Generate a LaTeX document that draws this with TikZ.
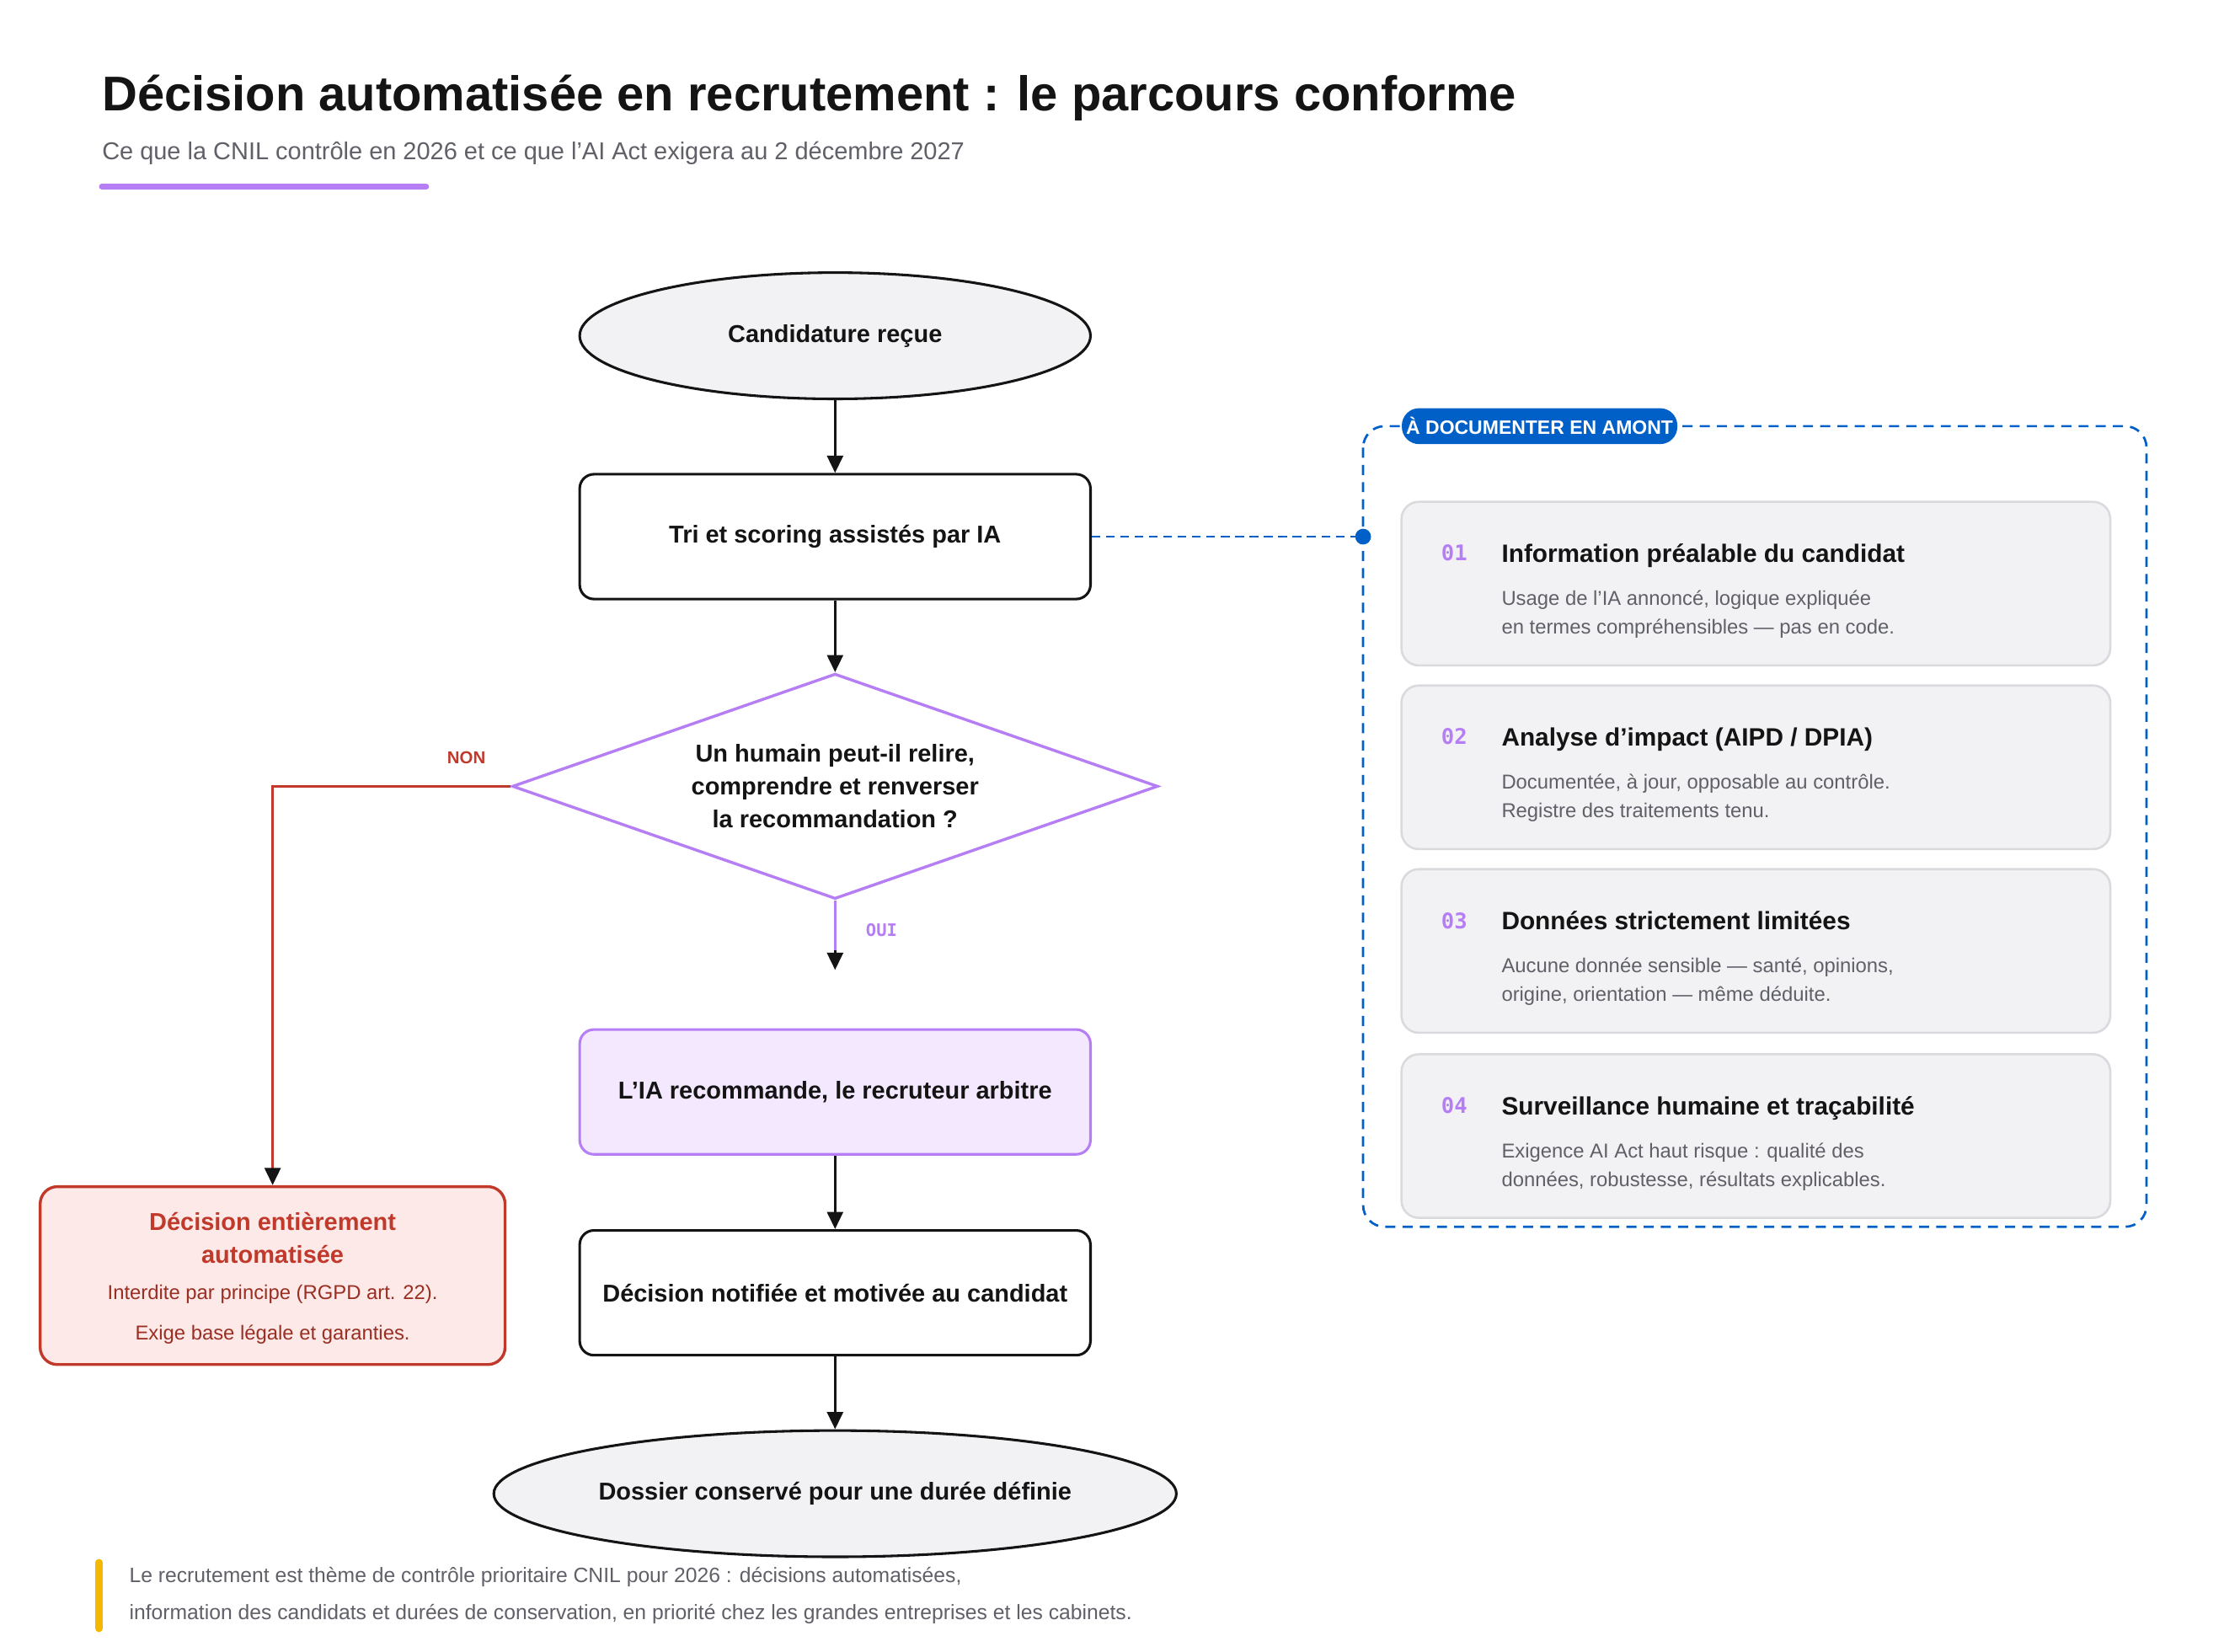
\documentclass[tikz,border=0pt]{standalone}
\usepackage{fontspec}
\setmainfont{Liberation Sans}
\setmonofont{DejaVu Sans Mono}
\usetikzlibrary{arrows.meta,shapes.geometric}
\definecolor{ink}{HTML}{141414}
\definecolor{gfill}{HTML}{F2F2F4}
\definecolor{gline}{HTML}{D9D9DE}
\definecolor{purp}{HTML}{B57EF5}
\definecolor{pfill}{HTML}{F3E8FE}
\definecolor{redl}{HTML}{C0392B}
\definecolor{rfill}{HTML}{FCE9E8}
\definecolor{blu}{HTML}{0060C8}
\definecolor{gtext}{HTML}{5F6068}
\definecolor{ylw}{HTML}{F5B800}
\begin{document}
\begin{tikzpicture}[x=1pt,y=-1pt,
  tip/.style={-{Triangle[width=11pt,length=12pt]}},
  flow/.style={draw=ink,line width=2pt,tip},
  term/.style={ellipse,draw=ink,line width=1.8pt,fill=gfill,minimum width=356pt,minimum height=88pt,font=\fontsize{17}{20}\selectfont\bfseries\color{ink}},
  proc/.style={rectangle,rounded corners=10pt,draw=ink,line width=1.8pt,fill=white,minimum width=356pt,minimum height=87pt,font=\fontsize{17}{20}\selectfont\bfseries\color{ink}},
  card/.style={rectangle,rounded corners=12pt,draw=gline,line width=1.5pt,fill=gfill,minimum width=494pt,minimum height=114pt,anchor=north west},
  num/.style={font=\ttfamily\bfseries\fontsize{15}{18}\selectfont,text=purp,anchor=base west},
  ctitle/.style={font=\bfseries\fontsize{17.5}{20}\selectfont,text=ink,anchor=base west},
  cdesc/.style={font=\fontsize{14}{20}\selectfont,text=gtext,anchor=base west,align=left}]
\useasboundingbox (0,0) rectangle (1550,1151);
\fill[white] (0,0) rectangle (1550,1151);
% header
\node[anchor=base west,inner sep=0,font=\bfseries\fontsize{34}{40}\selectfont,text=ink] (title) at (71,77) {Décision automatisée en recrutement : le parcours conforme};
\node[anchor=base west,inner sep=0,font=\fontsize{17}{20}\selectfont,text=gtext] (sub) at (71,111) {Ce que la CNIL contrôle en 2026 et ce que l'AI Act exigera au 2 décembre 2027};
\draw[purp,line width=4pt,line cap=round] (71,130) -- (297,130);
% flow
\node[term] (c1) at (582,234) {Candidature reçue};
\node[proc] (tri) at (582,374) {Tri et scoring assistés par IA};
\node[diamond,draw=purp,line width=2pt,fill=white,minimum width=450pt,minimum height=157pt,inner sep=0,aspect=2.87,font=\fontsize{17}{23}\selectfont\bfseries\color{ink},align=center] (q) at (582,548) {Un humain peut-il relire,\\comprendre et renverser\\la recommandation ?};
\node[proc,fill=pfill,draw=purp] (ia) at (582,761) {L'IA recommande, le recruteur arbitre};
\node[proc] (dec) at (582,901) {Décision notifiée et motivée au candidat};
\node[term] (c2) at (582,1041) {Dossier conservé pour une durée définie};
\draw[flow] (c1) -- (tri);
\draw[flow] (tri) -- (q.north);
\coordinate (oui) at (582,676);
\draw[purp,line width=2pt] (q.south) -- (582,664);
\draw[flow,draw=ink] (582,662) -- (oui);
\node[font=\ttfamily\bfseries\fontsize{12}{14}\selectfont,text=purp,anchor=west] (ouil) at (600,648) {OUI};
\draw[flow] (ia) -- (dec);
\draw[flow] (dec) -- (c2);
% red
\node[rectangle,rounded corners=12pt,draw=redl,line width=2pt,fill=rfill,minimum width=324pt,minimum height=124pt,anchor=north] (red) at (190,826) {};
\node[font=\bfseries\fontsize{17}{23}\selectfont,text=redl,align=center] (redt) at (190,863) {Décision entièrement\\automatisée};
\node[font=\fontsize{14}{28}\selectfont,text=redl!80!black,align=center] (redd) at (190,916) {Interdite par principe (RGPD art. 22).\\Exige base légale et garanties.};
\draw[redl,line width=2pt,-{Triangle[width=11pt,length=12pt,color=ink]}] (q.west) -- (190,548) -- (red.north);
\node[font=\bfseries\fontsize{12}{14}\selectfont,text=redl] (nonl) at (325,528) {NON};
% right panel
\draw[blu,line width=1.6pt,dash pattern=on 7pt off 5pt,rounded corners=15pt] (950,297) rectangle (1496,855);
\coordinate (dot) at (950,374);
\draw[blu,line width=1.6pt,dash pattern=on 6pt off 4pt] (tri.east) -- (dot);
\fill[blu] (dot) circle (5.5pt);
\node[rectangle,rounded corners=12pt,fill=blu,minimum width=192pt,minimum height=25pt,inner sep=0,font=\bfseries\fontsize{13.5}{15}\selectfont,text=white] (badge) at (1073,297) {À DOCUMENTER EN AMONT};
\foreach \y/\n/\t/\a/\b in {
 349/01/{Information préalable du candidat}/{Usage de l'IA annoncé, logique expliquée}/{en termes compréhensibles — pas en code.},
 477/02/{Analyse d'impact (AIPD / DPIA)}/{Documentée, à jour, opposable au contrôle.}/{Registre des traitements tenu.},
 605/03/{Données strictement limitées}/{Aucune donnée sensible — santé, opinions,}/{origine, orientation — même déduite.},
 734/04/{Surveillance humaine et traçabilité}/{Exigence AI Act haut risque : qualité des}/{données, robustesse, résultats explicables.}}{
  \node[card] (card\n) at (976,\y) {};
  \node[num] (num\n) at (1001,\y+42) {\n};
  \node[ctitle] (ct\n) at (1043,\y+43) {\t};
  \node[cdesc] (cd\n) at (1043,\y+73) {\a};
  \node[cdesc] (ce\n) at (1043,\y+93) {\b};
}
% footer
\draw[ylw,line width=5pt,line cap=round] (69,1089) -- (69,1135);
\node[anchor=base west,inner sep=0,font=\fontsize{14.5}{20}\selectfont,text=gtext] (f1) at (90,1103) {Le recrutement est thème de contrôle prioritaire CNIL pour 2026 : décisions automatisées,};
\node[anchor=base west,inner sep=0,font=\fontsize{14.5}{20}\selectfont,text=gtext] (f2) at (90,1129) {information des candidats et durées de conservation, en priorité chez les grandes entreprises et les cabinets.};
\end{tikzpicture}
\end{document}
